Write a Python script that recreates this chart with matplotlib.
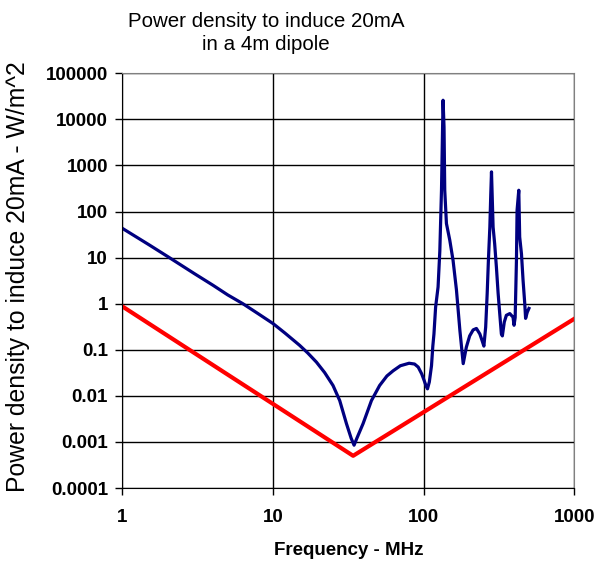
import matplotlib
matplotlib.use('Agg')
import matplotlib.pyplot as plt

plt.rcParams['font.family'] = ['Liberation Sans', 'DejaVu Sans']

# induced-current curve
freq = [1, 1.5, 2, 3, 4, 5, 6.3, 8, 10, 12, 15, 17, 19.4, 22, 25, 27.7, 30.7,
        33, 34.5, 36, 39.6, 45, 51, 57, 62.7, 70, 80, 87, 92, 97, 100, 104,
        106, 109, 112.7, 115, 117, 120, 124.6, 128, 131.3, 133.3, 134.5, 136.5,
        138, 141.6, 149, 156.7, 165, 174, 183, 192, 202, 213, 224, 236, 244,
        251, 258, 264, 269, 275, 279, 282, 289, 296, 304, 312, 320, 328, 333,
        343, 354, 373, 392, 398, 405, 413, 417, 428, 434, 446, 457, 469, 475,
        487, 500]
power = [43, 19, 10.5, 4.5, 2.5, 1.55, 1.0, 0.6, 0.37, 0.23, 0.125, 0.085,
         0.054, 0.032, 0.0168, 0.0079, 0.0025, 0.0012, 0.00085, 0.0012, 0.0025,
         0.0079, 0.0168, 0.027, 0.035, 0.045, 0.051, 0.049, 0.042, 0.030,
         0.023, 0.016, 0.0142, 0.02, 0.045, 0.12, 0.22, 0.84, 2.3, 14, 290,
         5000, 26000, 6800, 290, 55, 24, 8.7, 2.0, 0.26, 0.05, 0.114, 0.20,
         0.27, 0.29, 0.22, 0.16, 0.12, 0.31, 1.65, 8.7, 46, 245, 725, 46, 20,
         6.2, 1.7, 0.6, 0.22, 0.2, 0.4, 0.56, 0.61, 0.51, 0.34, 0.5, 8.7, 107,
         290, 28, 12, 3.2, 1.0, 0.48, 0.65, 0.79]

# limit line
lim_freq = [1, 34, 1000]
lim_power = [0.87, 0.0005, 0.47]

yticks = [0.0001, 0.001, 0.01, 0.1, 1, 10, 100, 1000, 10000, 100000]
ylabels = ['0.0001', '0.001', '0.01', '0.1', '1', '10', '100', '1000', '10000', '100000']
xticks = [1, 10, 100, 1000]
xlabels = ['1', '10', '100', '1000']

fig = plt.figure(figsize=(6.09, 5.66), dpi=100)
ax = fig.add_axes([0.2011, 0.1378, 0.7419, 0.7327])

ax.plot(lim_freq, lim_power, color='#ff0000', lw=3.0)
ax.plot(freq, power, color='#000080', lw=2.3)

ax.set_xscale('log')
ax.set_yscale('log')
ax.set_xlim(1, 1000)
ax.set_ylim(0.0001, 100000)
ax.set_xticks(xticks, xlabels)
ax.set_yticks(yticks, ylabels)
ax.minorticks_off()
ax.grid(True, color='black', lw=1)

for t in ax.get_xticklabels() + ax.get_yticklabels():
    t.set_fontweight('bold')
ax.tick_params(axis='both', labelsize=13.5, length=5, width=1, color='black')
ax.tick_params(axis='y', pad=5.5)
ax.tick_params(axis='x', pad=10)

ax.spines['top'].set_color('#808080')
ax.spines['right'].set_color('#808080')
ax.spines['left'].set_color('black')
ax.spines['bottom'].set_color('black')

ax.set_xlabel('Frequency - MHz', fontsize=13.5, fontweight='bold')
ax.xaxis.set_label_coords(0.5, -0.13)

fig.text(0.03, 0.512, 'Power density to induce 20mA - W/m^2', fontsize=17.8,
         rotation=90, ha='center', va='center')
fig.text(0.437, 0.978, 'Power density to induce 20mA\nin a 4m dipole', fontsize=14.8,
         ha='center', va='top', linespacing=1.25)

fig.savefig('out.png', dpi=100)
